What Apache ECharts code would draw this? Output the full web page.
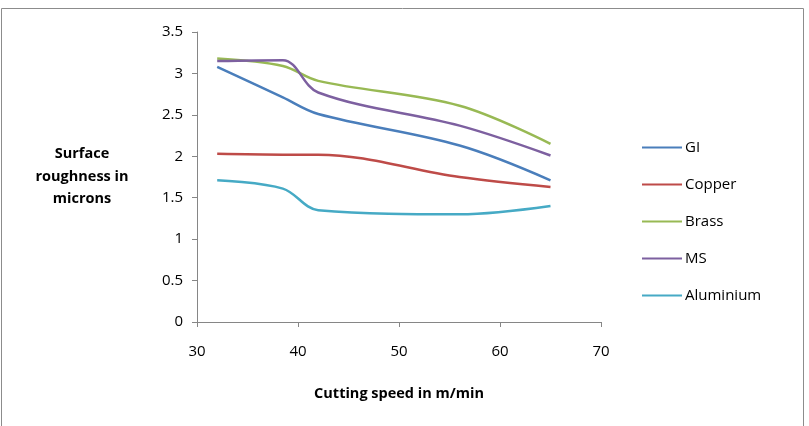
<!DOCTYPE html>
<html>
<head>
<meta charset="utf-8">
<script src="https://cdn.jsdelivr.net/npm/echarts@6/dist/echarts.min.js"></script>
<style>
  html, body { margin: 0; padding: 0; background: #fff; }
  #chart { width: 809px; height: 426px; }
</style>
</head>
<body>
<div id="chart"></div>
<script>
// Cutting speed (m/min) at which each reading was taken
const speeds = [32, 38.5, 42, 56, 65];

// Surface roughness in microns, per material
const gi = [3.08, 2.71, 2.51, 2.13, 1.71];
const copper = [2.03, 2.02, 2.02, 1.75, 1.63];
const brass = [3.18, 3.09, 2.91, 2.61, 2.15];
const ms = [3.15, 3.16, 2.77, 2.37, 2.01];
const aluminium = [1.71, 1.61, 1.35, 1.30, 1.40];

const seriesNames = ['GI', 'Copper', 'Brass', 'MS', 'Aluminium'];
const seriesValues = [gi, copper, brass, ms, aluminium];
const colors = ['#4A7EBB', '#BE4B48', '#98B954', '#7D60A0', '#46AAC5'];

const font = '"Open Sans", "Noto Sans", sans-serif';
const axisColor = '#868686';

const chart = echarts.init(document.getElementById('chart'), null, { renderer: 'canvas' });

const series = seriesNames.map((name, i) => ({
  name,
  type: 'line',
  data: speeds.map((x, j) => [x, seriesValues[i][j]]),
  smooth: 0.35,
  symbol: 'none',
  color: colors[i],
  lineStyle: { width: 2.5 },
}));

chart.setOption({
  animation: false,
  color: colors,
  textStyle: { fontFamily: font },
  graphic: [{
    type: 'rect',
    shape: { x: 1.5, y: 8.5, width: 802, height: 430 },
    style: { fill: 'none', stroke: '#8c8c8c', lineWidth: 1 },
    silent: true,
  }, {
    type: 'text',
    x: 82,
    y: 143,
    style: {
      text: 'Surface\nroughness in\nmicrons',
      font: 'bold 14.5px ' + font,
      fill: '#000',
      align: 'center',
      lineHeight: 22.5,
    },
  }],
  grid: { left: 197, right: 208, top: 32, bottom: 104 },
  legend: {
    orient: 'vertical',
    left: 637,
    top: 135,
    itemWidth: 40,
    itemHeight: 14,
    itemGap: 22,
    icon: 'path://M0,6 L40,6 L40,8 L0,8 Z',
    textStyle: { fontFamily: font, fontSize: 15, color: '#000', padding: [0, 0, 0, -2] },
    data: seriesNames,
  },
  xAxis: {
    type: 'value',
    min: 30,
    max: 70,
    interval: 10,
    name: 'Cutting speed in m/min',
    nameLocation: 'middle',
    nameGap: 64,
    nameTextStyle: { fontFamily: font, fontSize: 14.5, fontWeight: 'bold', color: '#000' },
    axisLine: { show: true, lineStyle: { color: axisColor, width: 1 } },
    axisTick: { show: true, length: 5, lineStyle: { color: axisColor } },
    axisLabel: { fontFamily: font, fontSize: 15, color: '#000', margin: 22 },
    splitLine: { show: false },
  },
  yAxis: {
    type: 'value',
    min: 0,
    max: 3.5,
    interval: 0.5,
    axisLine: { show: true, lineStyle: { color: axisColor, width: 1 } },
    axisTick: { show: true, length: 5, lineStyle: { color: axisColor } },
    axisLabel: { fontFamily: font, fontSize: 15, color: '#000', margin: 14 },
    splitLine: { show: false },
  },
  series,
});
</script>
</body>
</html>
